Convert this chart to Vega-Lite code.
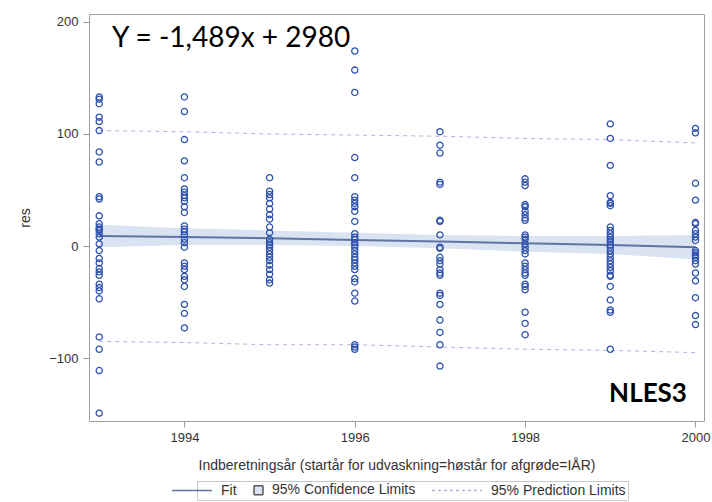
{
  "$schema": "https://vega.github.io/schema/vega-lite/v6.json",
  "width": 615,
  "height": 407,
  "autosize": {"type": "none"},
  "padding": {"left": 89, "top": 14, "right": 8, "bottom": 81},
  "background": "white",
  "datasets": {
    "pts": [
      {"year": 1993, "res": 133}, {"year": 1993, "res": 131}, {"year": 1993, "res": 127}, {"year": 1993, "res": 115},
      {"year": 1993, "res": 111}, {"year": 1993, "res": 103}, {"year": 1993, "res": 84}, {"year": 1993, "res": 75},
      {"year": 1993, "res": 44}, {"year": 1993, "res": 42}, {"year": 1993, "res": 27}, {"year": 1993, "res": 20},
      {"year": 1993, "res": 17}, {"year": 1993, "res": 15}, {"year": 1993, "res": 14}, {"year": 1993, "res": 11},
      {"year": 1993, "res": 8}, {"year": 1993, "res": 2}, {"year": 1993, "res": -4}, {"year": 1993, "res": -11},
      {"year": 1993, "res": -15}, {"year": 1993, "res": -20}, {"year": 1993, "res": -23}, {"year": 1993, "res": -26},
      {"year": 1993, "res": -34}, {"year": 1993, "res": -37}, {"year": 1993, "res": -40}, {"year": 1993, "res": -47},
      {"year": 1993, "res": -81}, {"year": 1993, "res": -92}, {"year": 1993, "res": -111}, {"year": 1993, "res": -149},
      {"year": 1994, "res": 133}, {"year": 1994, "res": 120}, {"year": 1994, "res": 95}, {"year": 1994, "res": 76},
      {"year": 1994, "res": 61}, {"year": 1994, "res": 51}, {"year": 1994, "res": 48}, {"year": 1994, "res": 45},
      {"year": 1994, "res": 43}, {"year": 1994, "res": 40}, {"year": 1994, "res": 35}, {"year": 1994, "res": 30},
      {"year": 1994, "res": 18}, {"year": 1994, "res": 15}, {"year": 1994, "res": 13}, {"year": 1994, "res": 10},
      {"year": 1994, "res": 6}, {"year": 1994, "res": 3}, {"year": 1994, "res": -1}, {"year": 1994, "res": -15},
      {"year": 1994, "res": -18}, {"year": 1994, "res": -21}, {"year": 1994, "res": -27}, {"year": 1994, "res": -30},
      {"year": 1994, "res": -36}, {"year": 1994, "res": -52}, {"year": 1994, "res": -60}, {"year": 1994, "res": -73},
      {"year": 1995, "res": 61}, {"year": 1995, "res": 49}, {"year": 1995, "res": 46}, {"year": 1995, "res": 43},
      {"year": 1995, "res": 38}, {"year": 1995, "res": 33}, {"year": 1995, "res": 28}, {"year": 1995, "res": 24},
      {"year": 1995, "res": 17}, {"year": 1995, "res": 12}, {"year": 1995, "res": 6}, {"year": 1995, "res": 3},
      {"year": 1995, "res": 1}, {"year": 1995, "res": -1}, {"year": 1995, "res": -4}, {"year": 1995, "res": -7},
      {"year": 1995, "res": -10}, {"year": 1995, "res": -13}, {"year": 1995, "res": -17}, {"year": 1995, "res": -21},
      {"year": 1995, "res": -25}, {"year": 1995, "res": -30}, {"year": 1995, "res": -33},
      {"year": 1996, "res": 174}, {"year": 1996, "res": 157}, {"year": 1996, "res": 137}, {"year": 1996, "res": 79},
      {"year": 1996, "res": 61}, {"year": 1996, "res": 44}, {"year": 1996, "res": 41}, {"year": 1996, "res": 38},
      {"year": 1996, "res": 35}, {"year": 1996, "res": 31}, {"year": 1996, "res": 22}, {"year": 1996, "res": 11},
      {"year": 1996, "res": 8}, {"year": 1996, "res": 6}, {"year": 1996, "res": 3}, {"year": 1996, "res": 1},
      {"year": 1996, "res": -1}, {"year": 1996, "res": -4}, {"year": 1996, "res": -7}, {"year": 1996, "res": -10},
      {"year": 1996, "res": -12}, {"year": 1996, "res": -15}, {"year": 1996, "res": -18}, {"year": 1996, "res": -21},
      {"year": 1996, "res": -29}, {"year": 1996, "res": -32}, {"year": 1996, "res": -42}, {"year": 1996, "res": -49},
      {"year": 1996, "res": -88}, {"year": 1996, "res": -90}, {"year": 1996, "res": -92},
      {"year": 1997, "res": 102}, {"year": 1997, "res": 90}, {"year": 1997, "res": 83}, {"year": 1997, "res": 57},
      {"year": 1997, "res": 55}, {"year": 1997, "res": 23}, {"year": 1997, "res": 22}, {"year": 1997, "res": 10},
      {"year": 1997, "res": -1}, {"year": 1997, "res": -2}, {"year": 1997, "res": -10}, {"year": 1997, "res": -13},
      {"year": 1997, "res": -16}, {"year": 1997, "res": -21}, {"year": 1997, "res": -24}, {"year": 1997, "res": -26},
      {"year": 1997, "res": -42}, {"year": 1997, "res": -44}, {"year": 1997, "res": -52}, {"year": 1997, "res": -66},
      {"year": 1997, "res": -77}, {"year": 1997, "res": -88}, {"year": 1997, "res": -107},
      {"year": 1998, "res": 60}, {"year": 1998, "res": 57}, {"year": 1998, "res": 54}, {"year": 1998, "res": 37},
      {"year": 1998, "res": 35}, {"year": 1998, "res": 31}, {"year": 1998, "res": 28}, {"year": 1998, "res": 25},
      {"year": 1998, "res": 23}, {"year": 1998, "res": 10}, {"year": 1998, "res": 8}, {"year": 1998, "res": 6},
      {"year": 1998, "res": 2}, {"year": 1998, "res": -1}, {"year": 1998, "res": -4}, {"year": 1998, "res": -7},
      {"year": 1998, "res": -15}, {"year": 1998, "res": -18}, {"year": 1998, "res": -21}, {"year": 1998, "res": -24},
      {"year": 1998, "res": -26}, {"year": 1998, "res": -34}, {"year": 1998, "res": -36}, {"year": 1998, "res": -39},
      {"year": 1998, "res": -59}, {"year": 1998, "res": -69}, {"year": 1998, "res": -79},
      {"year": 1999, "res": 109}, {"year": 1999, "res": 96}, {"year": 1999, "res": 72}, {"year": 1999, "res": 45},
      {"year": 1999, "res": 39}, {"year": 1999, "res": 38}, {"year": 1999, "res": 36}, {"year": 1999, "res": 17},
      {"year": 1999, "res": 14}, {"year": 1999, "res": 11}, {"year": 1999, "res": 8}, {"year": 1999, "res": 6},
      {"year": 1999, "res": 4}, {"year": 1999, "res": 1}, {"year": 1999, "res": -1}, {"year": 1999, "res": -4},
      {"year": 1999, "res": -7}, {"year": 1999, "res": -10}, {"year": 1999, "res": -13}, {"year": 1999, "res": -16},
      {"year": 1999, "res": -19}, {"year": 1999, "res": -22}, {"year": 1999, "res": -26}, {"year": 1999, "res": -27},
      {"year": 1999, "res": -36}, {"year": 1999, "res": -48}, {"year": 1999, "res": -57}, {"year": 1999, "res": -59},
      {"year": 1999, "res": -92},
      {"year": 2000, "res": 105}, {"year": 2000, "res": 101}, {"year": 2000, "res": 56}, {"year": 2000, "res": 41},
      {"year": 2000, "res": 21}, {"year": 2000, "res": 20}, {"year": 2000, "res": 14}, {"year": 2000, "res": 11},
      {"year": 2000, "res": 8}, {"year": 2000, "res": 5}, {"year": 2000, "res": -4}, {"year": 2000, "res": -6},
      {"year": 2000, "res": -8}, {"year": 2000, "res": -10}, {"year": 2000, "res": -13}, {"year": 2000, "res": -16},
      {"year": 2000, "res": -24}, {"year": 2000, "res": -31}, {"year": 2000, "res": -46}, {"year": 2000, "res": -62},
      {"year": 2000, "res": -70}
    ],
    "fit": [
      {"year": 1993, "fit": 9, "lcl": -1, "ucl": 19, "lpl": -85, "upl": 103},
      {"year": 1994, "fit": 8, "lcl": 1, "ucl": 16, "lpl": -86, "upl": 102},
      {"year": 1995, "fit": 7, "lcl": 1, "ucl": 14, "lpl": -88, "upl": 100},
      {"year": 1996, "fit": 5.5, "lcl": 0, "ucl": 12, "lpl": -88, "upl": 99},
      {"year": 1997, "fit": 4, "lcl": -2, "ucl": 10, "lpl": -90, "upl": 98},
      {"year": 1998, "fit": 2.5, "lcl": -5, "ucl": 9, "lpl": -92, "upl": 96},
      {"year": 1999, "fit": 1, "lcl": -7, "ucl": 9, "lpl": -93, "upl": 95},
      {"year": 2000, "fit": -1, "lcl": -12, "ucl": 10, "lpl": -95, "upl": 92}
    ],
    "keys": [
      {"series": "Fit"},
      {"series": "95% Confidence Limits"},
      {"series": "95% Prediction Limits"}
    ],
    "notes": [
      {"year": 1993.15, "res": 178, "label": "Y = -1,489x + 2980", "kind": "eq"},
      {"year": 1999.9, "res": -139, "label": "NLES3", "kind": "tag"}
    ]
  },
  "encoding": {
    "x": {
      "field": "year",
      "type": "quantitative",
      "scale": {"domain": [1992.88, 2000.1], "nice": false, "zero": false},
      "axis": {
        "values": [1994, 1996, 1998, 2000],
        "format": "d",
        "title": "Indberetningsår (startår for udvaskning=høstår for afgrøde=IÅR)",
        "grid": false,
        "domain": false,
        "tickColor": "#999999",
        "tickSize": 6,
        "labelPadding": 4,
        "labelFont": "Liberation Sans",
        "labelFontSize": 13,
        "labelColor": "#333333",
        "titleFont": "Liberation Sans",
        "titleFontSize": 14,
        "titleFontWeight": "normal",
        "titleColor": "#333333",
        "titlePadding": 14
      }
    },
    "y": {
      "type": "quantitative",
      "scale": {"domain": [-156, 207], "nice": false, "zero": false},
      "axis": {
        "values": [-100, 0, 100, 200],
        "title": "res",
        "grid": false,
        "domain": false,
        "tickColor": "#999999",
        "tickSize": 6,
        "labelPadding": 5,
        "labelFont": "Liberation Sans",
        "labelFontSize": 13,
        "labelColor": "#333333",
        "titleFont": "Liberation Sans",
        "titleFontSize": 14,
        "titleFontWeight": "normal",
        "titleColor": "#333333",
        "titlePadding": 16
      }
    }
  },
  "layer": [
    {
      "data": {"name": "fit"},
      "mark": {"type": "area", "opacity": 1, "color": "#d9e3f2"},
      "encoding": {
        "y": {"field": "ucl", "type": "quantitative"},
        "y2": {"field": "lcl"}
      }
    },
    {
      "data": {"name": "fit"},
      "mark": {"type": "line", "strokeDash": [4, 4], "strokeWidth": 1, "color": "#aab5e6"},
      "encoding": {
        "y": {"field": "upl", "type": "quantitative"}
      }
    },
    {
      "data": {"name": "fit"},
      "mark": {"type": "line", "strokeDash": [4, 4], "strokeWidth": 1, "color": "#aab5e6"},
      "encoding": {
        "y": {"field": "lpl", "type": "quantitative"}
      }
    },
    {
      "data": {"name": "fit"},
      "mark": {"type": "line", "strokeWidth": 2, "color": "#5d76a3"},
      "encoding": {
        "y": {"field": "fit", "type": "quantitative"}
      }
    },
    {
      "data": {"name": "pts"},
      "mark": {"type": "point", "shape": "circle", "filled": false, "size": 38, "strokeWidth": 1.3, "color": "#2f52ad", "opacity": 1},
      "encoding": {
        "y": {"field": "res", "type": "quantitative"}
      }
    },
    {
      "data": {"name": "keys"},
      "transform": [{"filter": "false"}],
      "mark": {"type": "point", "filled": true, "opacity": 1, "strokeWidth": 1.5},
      "encoding": {
        "y": {"field": "res", "type": "quantitative"},
        "shape": {
          "field": "series",
          "type": "nominal",
          "scale": {
            "domain": ["Fit", "95% Confidence Limits", "95% Prediction Limits"],
            "range": ["M-5.67,0H1", "M-0.5,-0.75H1V0.75H-0.5Z", "M-7.33,0H1"]
          },
          "legend": {
            "title": null,
            "orient": "none",
            "direction": "horizontal",
            "legendX": 108,
            "legendY": 467,
            "symbolSize": 144,
            "symbolStrokeWidth": 1.5,
            "symbolOpacity": 1,
            "columnPadding": 13,
            "labelOffset": 8,
            "labelFont": "Liberation Sans",
            "labelFontSize": 14,
            "labelColor": "#333333",
            "strokeColor": "#c8c8c8",
            "padding": 2
          }
        },
        "stroke": {
          "field": "series",
          "type": "nominal",
          "scale": {
            "domain": ["Fit", "95% Confidence Limits", "95% Prediction Limits"],
            "range": ["#5d76a3", "#555555", "#aab5e6"]
          }
        },
        "fill": {
          "field": "series",
          "type": "nominal",
          "scale": {
            "domain": ["Fit", "95% Confidence Limits", "95% Prediction Limits"],
            "range": ["transparent", "#d9e3f2", "transparent"]
          }
        },
        "strokeDash": {
          "field": "series",
          "type": "nominal",
          "scale": {
            "domain": ["Fit", "95% Confidence Limits", "95% Prediction Limits"],
            "range": [[1, 0], [1, 0], [3, 3]]
          }
        }
      }
    },
    {
      "data": {"name": "notes"},
      "transform": [{"filter": "datum.kind === 'eq'"}],
      "mark": {"type": "text", "align": "left", "baseline": "alphabetic", "font": "Lato", "fontSize": 28, "color": "#000000"},
      "encoding": {
        "y": {"field": "res", "type": "quantitative"},
        "text": {"field": "label"}
      }
    },
    {
      "data": {"name": "notes"},
      "transform": [{"filter": "datum.kind === 'tag'"}],
      "mark": {"type": "text", "align": "right", "baseline": "alphabetic", "font": "Lato", "fontSize": 26, "fontWeight": "bold", "color": "#000000"},
      "encoding": {
        "y": {"field": "res", "type": "quantitative"},
        "text": {"field": "label"}
      }
    }
  ],
  "config": {
    "view": {"stroke": "#a0a0a0", "strokeWidth": 1}
  }
}
